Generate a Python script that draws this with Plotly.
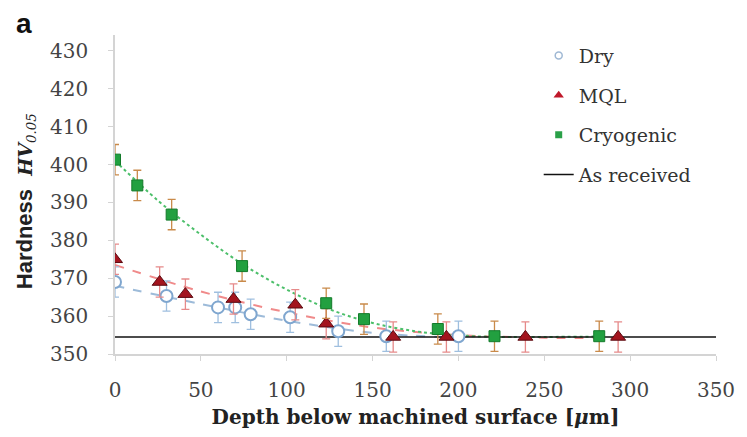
import plotly.graph_objects as go

# ---- data ----
dry_x = [0, 30, 60, 70, 79, 102, 130, 158, 200]
dry_y = [369, 365.3, 362.3, 362.3, 360.5, 359.7, 356, 354.7, 354.7]
mql_x = [0, 26, 41, 69, 105, 123, 162, 193, 239, 293]
mql_y = [375, 369, 365.8, 364.5, 363, 358, 354.5, 354.5, 354.5, 354.5]
cryo_x = [0, 13, 33, 74, 123, 145, 188, 221, 282]
cryo_y = [401.3, 394.5, 386.8, 373.2, 363.4, 359.2, 356.6, 354.7, 354.7]
err = 4

# trend lines
dry_tx = [0, 50, 100, 150, 200]
dry_ty = [368, 363.2, 358.8, 355.6, 354.3]
mql_tx = [0, 50, 100, 150, 200, 250, 290]
mql_ty = [373.5, 366.5, 361, 357, 355, 354.3, 354.2]
cryo_tx = [0, 25, 50, 75, 100, 125, 150, 175, 200, 225, 250, 280]
cryo_ty = [401, 390.5, 381.5, 373.5, 367, 361.8, 358.2, 356, 354.9, 354.5, 354.5, 354.6]

as_received_x = [0, 350]
as_received_y = [354.5, 354.5]

x_ticks = [0, 50, 100, 150, 200, 250, 300, 350]
y_ticks = [350, 360, 370, 380, 390, 400, 410, 420, 430]

DRY_C, MQL_C, CRYO_C = "#7fa6cf", "#a3141e", "#22a040"

fig = go.Figure()

# trend lines
fig.add_trace(go.Scatter(x=dry_tx, y=dry_ty, mode="lines", line=dict(color="#9dbbd9", width=2, dash="dash", shape="spline"), showlegend=False, hoverinfo="skip"))
fig.add_trace(go.Scatter(x=mql_tx, y=mql_ty, mode="lines", line=dict(color="#f08a8a", width=2, dash="dash", shape="spline"), showlegend=False, hoverinfo="skip"))
fig.add_trace(go.Scatter(x=cryo_tx, y=cryo_ty, mode="lines", line=dict(color="#4cbf6a", width=2, dash="dot", shape="spline"), showlegend=False, hoverinfo="skip"))

# as received line
fig.add_trace(go.Scatter(x=as_received_x, y=as_received_y, mode="lines", line=dict(color="#111111", width=1.6),
                         name="As received", legendgroup="d", legendrank=4))

# data with error bars
fig.add_trace(go.Scatter(
    x=dry_x, y=dry_y, mode="markers", name="Dry", showlegend=False,
    marker=dict(symbol="circle", size=12, color="white", line=dict(color=DRY_C, width=2)),
    error_y=dict(type="constant", value=err, color="#9fbfdf", thickness=1.3, width=4)))
fig.add_trace(go.Scatter(
    x=mql_x, y=mql_y, mode="markers", name="MQL", showlegend=False,
    marker=dict(symbol="triangle-up", size=13, color=MQL_C, line=dict(color="#5a0a10", width=1)),
    error_y=dict(type="constant", value=err, color="#e68a8a", thickness=1.3, width=4)))
fig.add_trace(go.Scatter(
    x=cryo_x, y=cryo_y, mode="markers", name="Cryogenic", showlegend=False,
    marker=dict(symbol="square", size=11, color=CRYO_C, line=dict(color="#137a2a", width=1)),
    error_y=dict(type="constant", value=err, color="#c98a4a", thickness=1.3, width=4)))

# legend-only entries with small markers
fig.add_trace(go.Scatter(x=[None], y=[None], mode="markers", name="Dry", legendgroup="a", legendrank=1,
                         marker=dict(symbol="circle", size=7, color="white", line=dict(color="#9fb8d4", width=1.5))))
fig.add_trace(go.Scatter(x=[None], y=[None], mode="markers", name="MQL", legendgroup="b", legendrank=2,
                         marker=dict(symbol="triangle-up", size=9, color="#c0182a", line=dict(width=0))))
fig.add_trace(go.Scatter(x=[None], y=[None], mode="markers", name="Cryogenic", legendgroup="c", legendrank=3,
                         marker=dict(symbol="square", size=7, color="#2aa048", line=dict(width=0))))

fig.update_layout(
    width=747, height=437,
    margin=dict(l=115, r=22, t=35, b=82),
    paper_bgcolor="white", plot_bgcolor="white",
    font=dict(family="DejaVu Serif", color="#333333"),
    legend=dict(x=0.705, y=0.995, xanchor="left", yanchor="top",
                font=dict(family="DejaVu Serif", size=19, color="#333333"),
                traceorder="grouped", tracegroupgap=12, bgcolor="rgba(0,0,0,0)"),
    xaxis=dict(range=[0, 350], tickvals=x_ticks, showgrid=False, zeroline=False,
               showline=True, linecolor="#d4d4d4", linewidth=1.5,
               ticks="outside", ticklen=5, tickcolor="#d4d4d4", ticklabelstandoff=12,
               tickfont=dict(family="DejaVu Serif", size=20, color="#444444"),
               title=dict(text="<b>Depth below machined surface [<i>μ</i>m]</b>",
                          font=dict(family="DejaVu Serif", size=20, color="#222222"), standoff=9)),
    yaxis=dict(range=[350, 434.2], tickvals=y_ticks, showgrid=False, zeroline=False,
               showline=True, linecolor="#d4d4d4", linewidth=1.5,
               ticks="outside", ticklen=5, tickcolor="#d4d4d4", ticklabelstandoff=16,
               tickfont=dict(family="DejaVu Serif", size=20, color="#444444")),
    annotations=[
        dict(text="<b>a</b>", x=-0.152, y=1.037, xref="paper", yref="paper",
             xanchor="center", yanchor="middle",
             showarrow=False, font=dict(family="Liberation Sans", size=28, color="#111111")),
        dict(text="<b><span style='font-family:Liberation Sans;font-size:22px'>Hardness</span>  <i>HV</i></b><sub><i>0.05</i></sub>",
             x=-0.1475, y=0.48, xref="paper", yref="paper", textangle=-90,
             xanchor="center", yanchor="middle", showarrow=False,
             font=dict(family="DejaVu Serif", size=19, color="#222222")),
    ],
)

fig.write_html("out.html", config={"displayModeBar": False},
               post_script="document.body.style.margin='0px';")
